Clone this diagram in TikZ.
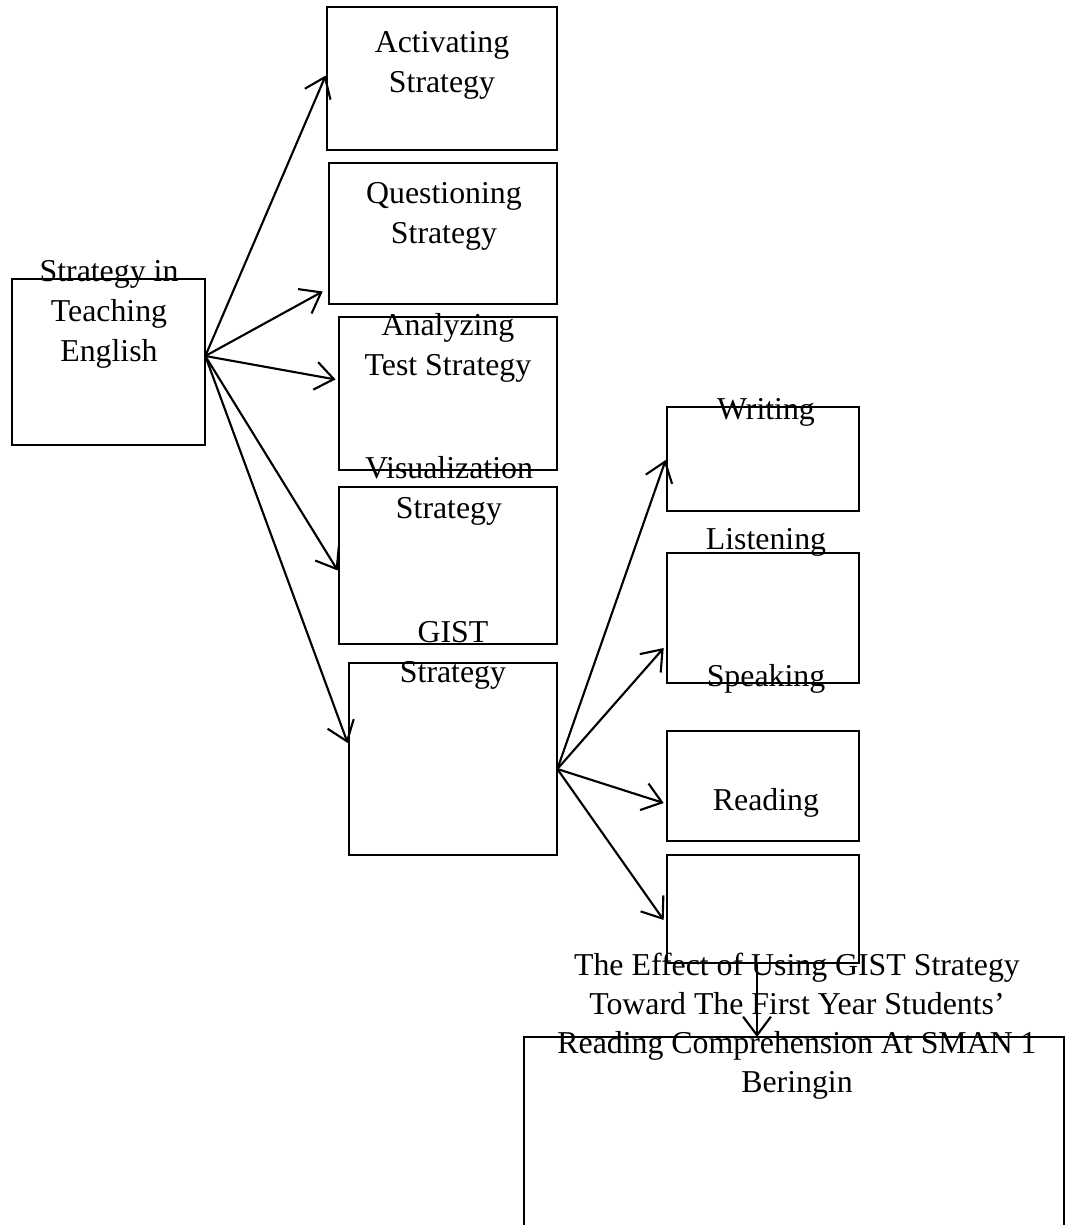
\documentclass[tikz,border=0pt]{standalone}
\usepackage{fontspec}
\setmainfont{Liberation Serif}
\usetikzlibrary{arrows.meta,fit}
\begin{document}
\begin{tikzpicture}[x=0.377pt,y=-0.377pt,
  box/.style={draw,line width=1pt,inner sep=0pt,rectangle},
  txt/.style={anchor=base,align=center,inner sep=0pt,font=\fontsize{12}{15}\selectfont},
  arr/.style={line width=0.8pt,-{Straight Barb[length=7pt,width=10.5pt,line width=0.8pt]}}]
\useasboundingbox (0,0) rectangle (1067,1225);
% boxes
\node[box,fit={(12,279) (205,445)}] (A) {};
\node[box,fit={(327,7) (557,150)}] (act) {};
\node[box,fit={(329,163) (557,304)}] (que) {};
\node[box,fit={(339,317) (557,470)}] (ana) {};
\node[box,fit={(339,487) (557,644)}] (vis) {};
\node[box,fit={(349,663) (557,855)}] (gist) {};
\node[box,fit={(667,407) (859,511)}] (wri) {};
\node[box,fit={(667,553) (859,683)}] (lis) {};
\node[box,fit={(667,731) (859,841)}] (rea) {};
\node[box,fit={(667,855) (859,963)}] (spk) {};
\draw[line width=1pt] (524,1240) -- (524,1037) coordinate (bigTL) -- (1064,1037) coordinate (bigTR) -- (1064,1240);
\coordinate (bigT) at (757,1037);
% texts (anchor = baseline of last line)
\node[txt] (At) at (109,361) {Strategy in\\Teaching\\English};
\node[txt] (actt) at (442,92) {Activating\\Strategy};
\node[txt] (quet) at (444,243) {Questioning\\Strategy};
\node[txt] (anat) at (448,375) {Analyzing\\Test Strategy};
\node[txt] (vist) at (449,518) {Visualization\\Strategy};
\node[txt] (gistt) at (453,682) {GIST\\Strategy};
\node[txt] (writ) at (766,419) {Writing};
\node[txt] (list) at (766,549) {Listening};
\node[txt] (spkt) at (766,686) {Speaking};
\node[txt] (reat) at (766,810) {Reading};
\node[txt,font=\fontsize{12}{14.6}\selectfont] (eff) at (797,1092) {The Effect of Using GIST Strategy\\Toward The First Year Students’\\Reading Comprehension At SMAN 1\\Beringin};
% arrows
\coordinate (a0) at ([shift={(-1,-6)}]A.east);
\draw[arr] (a0) -- ([shift={(0,-3)}]act.west);
\draw[arr] (a0) -- ([shift={(-5,58)}]que.west);
\draw[arr] (a0) -- ([shift={(-2,-14)}]ana.west);
\draw[arr] (a0) -- ([shift={(0,5)}]vis.west);
\draw[arr] (a0) -- ([shift={(0,-16)}]gist.west);
\coordinate (g0) at ([shift={(-1,10)}]gist.east);
\draw[arr] (g0) -- ([shift={(0,1)}]wri.west);
\draw[arr] (g0) -- ([shift={(-2,30)}]lis.west);
\draw[arr] (g0) -- ([shift={(-2,17)}]rea.west);
\draw[arr] (g0) -- ([shift={(-2,11)}]spk.west);
\draw[arr] (spk.south -| bigT) -- (bigT);
\end{tikzpicture}
\end{document}
